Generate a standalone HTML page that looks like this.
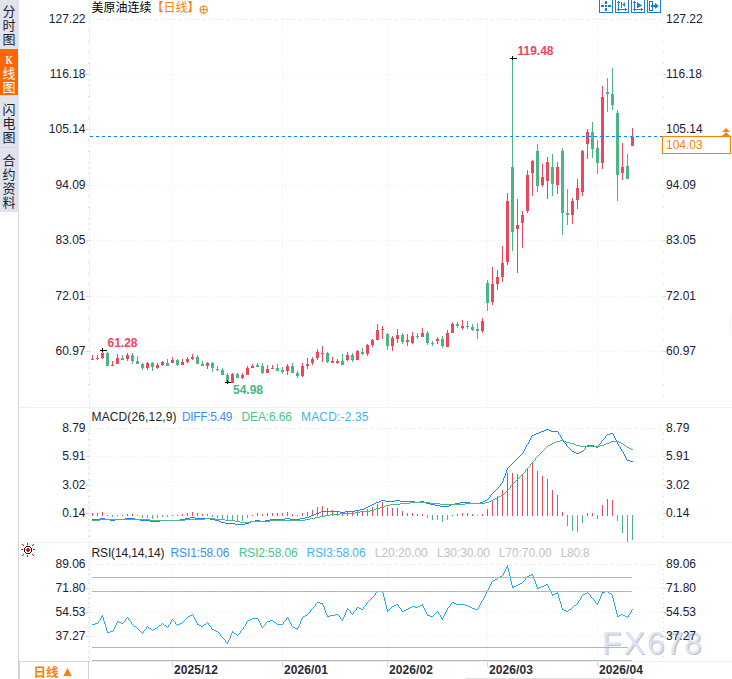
<!DOCTYPE html>
<html><head><meta charset="utf-8"><title>chart</title>
<style>html,body{margin:0;padding:0;background:#fff;overflow:hidden;}svg{display:block}text{shape-rendering:auto}</style>
</head><body><svg width="732" height="679" viewBox="0 0 732 679" font-family="'Liberation Sans', sans-serif" shape-rendering="crispEdges">
<rect x="0" y="0" width="732" height="679" fill="#ffffff"/>
<g shape-rendering="auto" font-size="31.7"><text x="603 624.8 648.1 666.7 685.1" y="654.9" fill="#b9a58e" opacity="0.7">FX678</text><text x="601.9 623.7 647 665.6 684" y="653.9" fill="#d6e5f7">FX678</text></g>
<rect x="18" y="0" width="1" height="679" fill="#d0d8e2"/>
<rect x="89" y="0" width="1" height="661" fill="#edf1f5"/>
<rect x="19" y="407" width="713" height="1" fill="#edf1f5"/>
<rect x="19" y="542" width="713" height="1" fill="#edf1f5"/>
<rect x="19" y="661" width="713" height="1" fill="#edf1f5"/>
<line x1="90" y1="19.5" x2="662" y2="19.5" stroke="#eaeff4" stroke-dasharray="3 3" stroke-dashoffset="1"/>
<line x1="90" y1="74.5" x2="662" y2="74.5" stroke="#eaeff4" stroke-dasharray="1 2" stroke-dashoffset="0"/>
<line x1="90" y1="129.5" x2="662" y2="129.5" stroke="#eaeff4" stroke-dasharray="1 2" stroke-dashoffset="0"/>
<line x1="90" y1="185.5" x2="662" y2="185.5" stroke="#eaeff4" stroke-dasharray="1 2" stroke-dashoffset="0"/>
<line x1="90" y1="240.5" x2="662" y2="240.5" stroke="#eaeff4" stroke-dasharray="1 2" stroke-dashoffset="0"/>
<line x1="90" y1="296.5" x2="662" y2="296.5" stroke="#eaeff4" stroke-dasharray="1 2" stroke-dashoffset="0"/>
<line x1="90" y1="351.5" x2="662" y2="351.5" stroke="#eaeff4" stroke-dasharray="1 2" stroke-dashoffset="0"/>
<line x1="172.5" y1="19" x2="172.5" y2="407" stroke="#eaeff4" stroke-dasharray="1 2" stroke-dashoffset="0"/>
<line x1="172.5" y1="428" x2="172.5" y2="542" stroke="#eaeff4" stroke-dasharray="1 2" stroke-dashoffset="0"/>
<line x1="172.5" y1="564" x2="172.5" y2="660" stroke="#eaeff4" stroke-dasharray="1 2" stroke-dashoffset="0"/>
<line x1="282.5" y1="19" x2="282.5" y2="407" stroke="#eaeff4" stroke-dasharray="1 2" stroke-dashoffset="0"/>
<line x1="282.5" y1="428" x2="282.5" y2="542" stroke="#eaeff4" stroke-dasharray="1 2" stroke-dashoffset="0"/>
<line x1="282.5" y1="564" x2="282.5" y2="660" stroke="#eaeff4" stroke-dasharray="1 2" stroke-dashoffset="0"/>
<line x1="387.5" y1="19" x2="387.5" y2="407" stroke="#eaeff4" stroke-dasharray="1 2" stroke-dashoffset="0"/>
<line x1="387.5" y1="428" x2="387.5" y2="542" stroke="#eaeff4" stroke-dasharray="1 2" stroke-dashoffset="0"/>
<line x1="387.5" y1="564" x2="387.5" y2="660" stroke="#eaeff4" stroke-dasharray="1 2" stroke-dashoffset="0"/>
<line x1="487.5" y1="19" x2="487.5" y2="407" stroke="#eaeff4" stroke-dasharray="1 2" stroke-dashoffset="0"/>
<line x1="487.5" y1="428" x2="487.5" y2="542" stroke="#eaeff4" stroke-dasharray="1 2" stroke-dashoffset="0"/>
<line x1="487.5" y1="564" x2="487.5" y2="660" stroke="#eaeff4" stroke-dasharray="1 2" stroke-dashoffset="0"/>
<line x1="597.5" y1="19" x2="597.5" y2="407" stroke="#eaeff4" stroke-dasharray="1 2" stroke-dashoffset="0"/>
<line x1="597.5" y1="428" x2="597.5" y2="542" stroke="#eaeff4" stroke-dasharray="1 2" stroke-dashoffset="0"/>
<line x1="597.5" y1="564" x2="597.5" y2="660" stroke="#eaeff4" stroke-dasharray="1 2" stroke-dashoffset="0"/>
<line x1="90" y1="428.5" x2="662" y2="428.5" stroke="#eaeff4" stroke-dasharray="3 3" stroke-dashoffset="1"/>
<line x1="90" y1="456.5" x2="662" y2="456.5" stroke="#eaeff4" stroke-dasharray="1 2" stroke-dashoffset="0"/>
<line x1="90" y1="485.5" x2="662" y2="485.5" stroke="#eaeff4" stroke-dasharray="1 2" stroke-dashoffset="0"/>
<line x1="90" y1="513.5" x2="662" y2="513.5" stroke="#eaeff4" stroke-dasharray="1 2" stroke-dashoffset="0"/>
<line x1="90" y1="564.5" x2="662" y2="564.5" stroke="#eaeff4" stroke-dasharray="3 3" stroke-dashoffset="1"/>
<line x1="90" y1="588.5" x2="662" y2="588.5" stroke="#eaeff4" stroke-dasharray="1 2" stroke-dashoffset="0"/>
<line x1="90" y1="612.5" x2="662" y2="612.5" stroke="#eaeff4" stroke-dasharray="1 2" stroke-dashoffset="0"/>
<line x1="90" y1="636.5" x2="662" y2="636.5" stroke="#eaeff4" stroke-dasharray="1 2" stroke-dashoffset="0"/>
<rect x="86" y="74" width="3" height="1" fill="#ced6e2"/>
<rect x="663" y="74" width="3" height="1" fill="#ced6e2"/>
<rect x="86" y="129" width="3" height="1" fill="#ced6e2"/>
<rect x="663" y="129" width="3" height="1" fill="#ced6e2"/>
<rect x="86" y="185" width="3" height="1" fill="#ced6e2"/>
<rect x="663" y="185" width="3" height="1" fill="#ced6e2"/>
<rect x="86" y="240" width="3" height="1" fill="#ced6e2"/>
<rect x="663" y="240" width="3" height="1" fill="#ced6e2"/>
<rect x="86" y="296" width="3" height="1" fill="#ced6e2"/>
<rect x="663" y="296" width="3" height="1" fill="#ced6e2"/>
<rect x="86" y="351" width="3" height="1" fill="#ced6e2"/>
<rect x="663" y="351" width="3" height="1" fill="#ced6e2"/>
<rect x="88" y="30" width="1" height="1" fill="#ced6e2"/>
<rect x="663" y="30" width="1" height="1" fill="#ced6e2"/>
<rect x="88" y="41" width="1" height="1" fill="#ced6e2"/>
<rect x="663" y="41" width="1" height="1" fill="#ced6e2"/>
<rect x="88" y="52" width="1" height="1" fill="#ced6e2"/>
<rect x="663" y="52" width="1" height="1" fill="#ced6e2"/>
<rect x="88" y="63" width="1" height="1" fill="#ced6e2"/>
<rect x="663" y="63" width="1" height="1" fill="#ced6e2"/>
<rect x="88" y="85" width="1" height="1" fill="#ced6e2"/>
<rect x="663" y="85" width="1" height="1" fill="#ced6e2"/>
<rect x="88" y="96" width="1" height="1" fill="#ced6e2"/>
<rect x="663" y="96" width="1" height="1" fill="#ced6e2"/>
<rect x="88" y="107" width="1" height="1" fill="#ced6e2"/>
<rect x="663" y="107" width="1" height="1" fill="#ced6e2"/>
<rect x="88" y="118" width="1" height="1" fill="#ced6e2"/>
<rect x="663" y="118" width="1" height="1" fill="#ced6e2"/>
<rect x="88" y="140" width="1" height="1" fill="#ced6e2"/>
<rect x="663" y="140" width="1" height="1" fill="#ced6e2"/>
<rect x="88" y="151" width="1" height="1" fill="#ced6e2"/>
<rect x="663" y="151" width="1" height="1" fill="#ced6e2"/>
<rect x="88" y="162" width="1" height="1" fill="#ced6e2"/>
<rect x="663" y="162" width="1" height="1" fill="#ced6e2"/>
<rect x="88" y="173" width="1" height="1" fill="#ced6e2"/>
<rect x="663" y="173" width="1" height="1" fill="#ced6e2"/>
<rect x="88" y="196" width="1" height="1" fill="#ced6e2"/>
<rect x="663" y="196" width="1" height="1" fill="#ced6e2"/>
<rect x="88" y="207" width="1" height="1" fill="#ced6e2"/>
<rect x="663" y="207" width="1" height="1" fill="#ced6e2"/>
<rect x="88" y="218" width="1" height="1" fill="#ced6e2"/>
<rect x="663" y="218" width="1" height="1" fill="#ced6e2"/>
<rect x="88" y="229" width="1" height="1" fill="#ced6e2"/>
<rect x="663" y="229" width="1" height="1" fill="#ced6e2"/>
<rect x="88" y="251" width="1" height="1" fill="#ced6e2"/>
<rect x="663" y="251" width="1" height="1" fill="#ced6e2"/>
<rect x="88" y="262" width="1" height="1" fill="#ced6e2"/>
<rect x="663" y="262" width="1" height="1" fill="#ced6e2"/>
<rect x="88" y="273" width="1" height="1" fill="#ced6e2"/>
<rect x="663" y="273" width="1" height="1" fill="#ced6e2"/>
<rect x="88" y="284" width="1" height="1" fill="#ced6e2"/>
<rect x="663" y="284" width="1" height="1" fill="#ced6e2"/>
<rect x="88" y="307" width="1" height="1" fill="#ced6e2"/>
<rect x="663" y="307" width="1" height="1" fill="#ced6e2"/>
<rect x="88" y="318" width="1" height="1" fill="#ced6e2"/>
<rect x="663" y="318" width="1" height="1" fill="#ced6e2"/>
<rect x="88" y="329" width="1" height="1" fill="#ced6e2"/>
<rect x="663" y="329" width="1" height="1" fill="#ced6e2"/>
<rect x="88" y="340" width="1" height="1" fill="#ced6e2"/>
<rect x="663" y="340" width="1" height="1" fill="#ced6e2"/>
<rect x="88" y="362" width="1" height="1" fill="#ced6e2"/>
<rect x="663" y="362" width="1" height="1" fill="#ced6e2"/>
<rect x="88" y="373" width="1" height="1" fill="#ced6e2"/>
<rect x="663" y="373" width="1" height="1" fill="#ced6e2"/>
<rect x="88" y="384" width="1" height="1" fill="#ced6e2"/>
<rect x="663" y="384" width="1" height="1" fill="#ced6e2"/>
<rect x="88" y="395" width="1" height="1" fill="#ced6e2"/>
<rect x="663" y="395" width="1" height="1" fill="#ced6e2"/>
<rect x="86" y="456" width="3" height="1" fill="#ced6e2"/>
<rect x="663" y="456" width="3" height="1" fill="#ced6e2"/>
<rect x="86" y="485" width="3" height="1" fill="#ced6e2"/>
<rect x="663" y="485" width="3" height="1" fill="#ced6e2"/>
<rect x="86" y="513" width="3" height="1" fill="#ced6e2"/>
<rect x="663" y="513" width="3" height="1" fill="#ced6e2"/>
<rect x="88" y="433" width="1" height="1" fill="#ced6e2"/>
<rect x="663" y="433" width="1" height="1" fill="#ced6e2"/>
<rect x="88" y="439" width="1" height="1" fill="#ced6e2"/>
<rect x="663" y="439" width="1" height="1" fill="#ced6e2"/>
<rect x="88" y="445" width="1" height="1" fill="#ced6e2"/>
<rect x="663" y="445" width="1" height="1" fill="#ced6e2"/>
<rect x="88" y="450" width="1" height="1" fill="#ced6e2"/>
<rect x="663" y="450" width="1" height="1" fill="#ced6e2"/>
<rect x="88" y="462" width="1" height="1" fill="#ced6e2"/>
<rect x="663" y="462" width="1" height="1" fill="#ced6e2"/>
<rect x="88" y="467" width="1" height="1" fill="#ced6e2"/>
<rect x="663" y="467" width="1" height="1" fill="#ced6e2"/>
<rect x="88" y="473" width="1" height="1" fill="#ced6e2"/>
<rect x="663" y="473" width="1" height="1" fill="#ced6e2"/>
<rect x="88" y="479" width="1" height="1" fill="#ced6e2"/>
<rect x="663" y="479" width="1" height="1" fill="#ced6e2"/>
<rect x="88" y="490" width="1" height="1" fill="#ced6e2"/>
<rect x="663" y="490" width="1" height="1" fill="#ced6e2"/>
<rect x="88" y="496" width="1" height="1" fill="#ced6e2"/>
<rect x="663" y="496" width="1" height="1" fill="#ced6e2"/>
<rect x="88" y="502" width="1" height="1" fill="#ced6e2"/>
<rect x="663" y="502" width="1" height="1" fill="#ced6e2"/>
<rect x="88" y="507" width="1" height="1" fill="#ced6e2"/>
<rect x="663" y="507" width="1" height="1" fill="#ced6e2"/>
<rect x="88" y="519" width="1" height="1" fill="#ced6e2"/>
<rect x="663" y="519" width="1" height="1" fill="#ced6e2"/>
<rect x="88" y="524" width="1" height="1" fill="#ced6e2"/>
<rect x="663" y="524" width="1" height="1" fill="#ced6e2"/>
<rect x="88" y="530" width="1" height="1" fill="#ced6e2"/>
<rect x="663" y="530" width="1" height="1" fill="#ced6e2"/>
<rect x="88" y="536" width="1" height="1" fill="#ced6e2"/>
<rect x="663" y="536" width="1" height="1" fill="#ced6e2"/>
<rect x="86" y="588" width="3" height="1" fill="#ced6e2"/>
<rect x="663" y="588" width="3" height="1" fill="#ced6e2"/>
<rect x="86" y="612" width="3" height="1" fill="#ced6e2"/>
<rect x="663" y="612" width="3" height="1" fill="#ced6e2"/>
<rect x="86" y="636" width="3" height="1" fill="#ced6e2"/>
<rect x="663" y="636" width="3" height="1" fill="#ced6e2"/>
<rect x="88" y="569" width="1" height="1" fill="#ced6e2"/>
<rect x="663" y="569" width="1" height="1" fill="#ced6e2"/>
<rect x="88" y="574" width="1" height="1" fill="#ced6e2"/>
<rect x="663" y="574" width="1" height="1" fill="#ced6e2"/>
<rect x="88" y="579" width="1" height="1" fill="#ced6e2"/>
<rect x="663" y="579" width="1" height="1" fill="#ced6e2"/>
<rect x="88" y="583" width="1" height="1" fill="#ced6e2"/>
<rect x="663" y="583" width="1" height="1" fill="#ced6e2"/>
<rect x="88" y="593" width="1" height="1" fill="#ced6e2"/>
<rect x="663" y="593" width="1" height="1" fill="#ced6e2"/>
<rect x="88" y="598" width="1" height="1" fill="#ced6e2"/>
<rect x="663" y="598" width="1" height="1" fill="#ced6e2"/>
<rect x="88" y="603" width="1" height="1" fill="#ced6e2"/>
<rect x="663" y="603" width="1" height="1" fill="#ced6e2"/>
<rect x="88" y="607" width="1" height="1" fill="#ced6e2"/>
<rect x="663" y="607" width="1" height="1" fill="#ced6e2"/>
<rect x="88" y="617" width="1" height="1" fill="#ced6e2"/>
<rect x="663" y="617" width="1" height="1" fill="#ced6e2"/>
<rect x="88" y="622" width="1" height="1" fill="#ced6e2"/>
<rect x="663" y="622" width="1" height="1" fill="#ced6e2"/>
<rect x="88" y="627" width="1" height="1" fill="#ced6e2"/>
<rect x="663" y="627" width="1" height="1" fill="#ced6e2"/>
<rect x="88" y="631" width="1" height="1" fill="#ced6e2"/>
<rect x="663" y="631" width="1" height="1" fill="#ced6e2"/>
<rect x="88" y="641" width="1" height="1" fill="#ced6e2"/>
<rect x="663" y="641" width="1" height="1" fill="#ced6e2"/>
<rect x="88" y="646" width="1" height="1" fill="#ced6e2"/>
<rect x="663" y="646" width="1" height="1" fill="#ced6e2"/>
<rect x="88" y="651" width="1" height="1" fill="#ced6e2"/>
<rect x="663" y="651" width="1" height="1" fill="#ced6e2"/>
<rect x="88" y="656" width="1" height="1" fill="#ced6e2"/>
<rect x="663" y="656" width="1" height="1" fill="#ced6e2"/>
<text x="85.5" y="23" fill="#1a2036" font-size="12" text-anchor="end" font-weight="normal">127.22</text>
<text x="666" y="23" fill="#1a2036" font-size="12" text-anchor="start" font-weight="normal">127.22</text>
<text x="85.5" y="78" fill="#1a2036" font-size="12" text-anchor="end" font-weight="normal">116.18</text>
<text x="666" y="78" fill="#1a2036" font-size="12" text-anchor="start" font-weight="normal">116.18</text>
<text x="85.5" y="133" fill="#1a2036" font-size="12" text-anchor="end" font-weight="normal">105.14</text>
<text x="666" y="133" fill="#1a2036" font-size="12" text-anchor="start" font-weight="normal">105.14</text>
<text x="85.5" y="189" fill="#1a2036" font-size="12" text-anchor="end" font-weight="normal">94.09</text>
<text x="666" y="189" fill="#1a2036" font-size="12" text-anchor="start" font-weight="normal">94.09</text>
<text x="85.5" y="244" fill="#1a2036" font-size="12" text-anchor="end" font-weight="normal">83.05</text>
<text x="666" y="244" fill="#1a2036" font-size="12" text-anchor="start" font-weight="normal">83.05</text>
<text x="85.5" y="300" fill="#1a2036" font-size="12" text-anchor="end" font-weight="normal">72.01</text>
<text x="666" y="300" fill="#1a2036" font-size="12" text-anchor="start" font-weight="normal">72.01</text>
<text x="85.5" y="355" fill="#1a2036" font-size="12" text-anchor="end" font-weight="normal">60.97</text>
<text x="666" y="355" fill="#1a2036" font-size="12" text-anchor="start" font-weight="normal">60.97</text>
<text x="85.5" y="432" fill="#1a2036" font-size="12" text-anchor="end" font-weight="normal">8.79</text>
<text x="666" y="432" fill="#1a2036" font-size="12" text-anchor="start" font-weight="normal">8.79</text>
<text x="85.5" y="460" fill="#1a2036" font-size="12" text-anchor="end" font-weight="normal">5.91</text>
<text x="666" y="460" fill="#1a2036" font-size="12" text-anchor="start" font-weight="normal">5.91</text>
<text x="85.5" y="489" fill="#1a2036" font-size="12" text-anchor="end" font-weight="normal">3.02</text>
<text x="666" y="489" fill="#1a2036" font-size="12" text-anchor="start" font-weight="normal">3.02</text>
<text x="85.5" y="517" fill="#1a2036" font-size="12" text-anchor="end" font-weight="normal">0.14</text>
<text x="666" y="517" fill="#1a2036" font-size="12" text-anchor="start" font-weight="normal">0.14</text>
<text x="85.5" y="568" fill="#1a2036" font-size="12" text-anchor="end" font-weight="normal">89.06</text>
<text x="666" y="568" fill="#1a2036" font-size="12" text-anchor="start" font-weight="normal">89.06</text>
<text x="85.5" y="592" fill="#1a2036" font-size="12" text-anchor="end" font-weight="normal">71.80</text>
<text x="666" y="592" fill="#1a2036" font-size="12" text-anchor="start" font-weight="normal">71.80</text>
<text x="85.5" y="616" fill="#1a2036" font-size="12" text-anchor="end" font-weight="normal">54.53</text>
<text x="666" y="616" fill="#1a2036" font-size="12" text-anchor="start" font-weight="normal">54.53</text>
<text x="85.5" y="640" fill="#1a2036" font-size="12" text-anchor="end" font-weight="normal">37.27</text>
<text x="666" y="640" fill="#1a2036" font-size="12" text-anchor="start" font-weight="normal">37.27</text>
<rect x="92" y="355" width="1" height="5" fill="#ec485c"/>
<rect x="91" y="359" width="3" height="1" fill="#ec485c"/>
<rect x="97" y="355" width="1" height="5" fill="#ec485c"/>
<rect x="96" y="358" width="3" height="1" fill="#ec485c"/>
<rect x="102" y="350" width="1" height="9" fill="#ec485c"/>
<rect x="101" y="353" width="3" height="5" fill="#ec485c"/>
<rect x="107" y="352" width="1" height="14" fill="#49b684"/>
<rect x="106" y="353" width="3" height="13" fill="#49b684"/>
<rect x="112" y="361" width="1" height="5" fill="#ec485c"/>
<rect x="111" y="365" width="3" height="1" fill="#ec485c"/>
<rect x="117" y="354" width="1" height="10" fill="#ec485c"/>
<rect x="116" y="358" width="3" height="6" fill="#ec485c"/>
<rect x="122" y="355" width="1" height="5" fill="#49b684"/>
<rect x="121" y="358" width="3" height="2" fill="#49b684"/>
<rect x="127" y="353" width="1" height="8" fill="#ec485c"/>
<rect x="126" y="355" width="3" height="4" fill="#ec485c"/>
<rect x="132" y="353" width="1" height="11" fill="#49b684"/>
<rect x="131" y="355" width="3" height="6" fill="#49b684"/>
<rect x="137" y="356" width="1" height="8" fill="#49b684"/>
<rect x="136" y="361" width="3" height="3" fill="#49b684"/>
<rect x="142" y="363" width="1" height="7" fill="#49b684"/>
<rect x="141" y="364" width="3" height="4" fill="#49b684"/>
<rect x="147" y="362" width="1" height="8" fill="#ec485c"/>
<rect x="146" y="363" width="3" height="5" fill="#ec485c"/>
<rect x="152" y="362" width="1" height="9" fill="#49b684"/>
<rect x="151" y="363" width="3" height="4" fill="#49b684"/>
<rect x="157" y="363" width="1" height="6" fill="#ec485c"/>
<rect x="156" y="365" width="3" height="3" fill="#ec485c"/>
<rect x="162" y="361" width="1" height="5" fill="#ec485c"/>
<rect x="161" y="362" width="3" height="3" fill="#ec485c"/>
<rect x="167" y="359" width="1" height="7" fill="#49b684"/>
<rect x="166" y="363" width="3" height="3" fill="#49b684"/>
<rect x="172" y="357" width="1" height="6" fill="#ec485c"/>
<rect x="171" y="360" width="3" height="3" fill="#ec485c"/>
<rect x="177" y="359" width="1" height="7" fill="#49b684"/>
<rect x="176" y="360" width="3" height="5" fill="#49b684"/>
<rect x="182" y="359" width="1" height="6" fill="#ec485c"/>
<rect x="181" y="362" width="3" height="3" fill="#ec485c"/>
<rect x="187" y="357" width="1" height="6" fill="#ec485c"/>
<rect x="186" y="359" width="3" height="3" fill="#ec485c"/>
<rect x="192" y="354" width="1" height="6" fill="#ec485c"/>
<rect x="191" y="357" width="3" height="2" fill="#ec485c"/>
<rect x="197" y="355" width="1" height="9" fill="#49b684"/>
<rect x="196" y="357" width="3" height="7" fill="#49b684"/>
<rect x="202" y="361" width="1" height="5" fill="#49b684"/>
<rect x="201" y="364" width="3" height="2" fill="#49b684"/>
<rect x="207" y="362" width="1" height="7" fill="#ec485c"/>
<rect x="206" y="363" width="3" height="3" fill="#ec485c"/>
<rect x="212" y="362" width="1" height="10" fill="#49b684"/>
<rect x="211" y="363" width="3" height="5" fill="#49b684"/>
<rect x="217" y="366" width="1" height="5" fill="#49b684"/>
<rect x="216" y="369" width="3" height="1" fill="#49b684"/>
<rect x="222" y="368" width="1" height="7" fill="#49b684"/>
<rect x="221" y="370" width="3" height="5" fill="#49b684"/>
<rect x="227" y="373" width="1" height="9" fill="#49b684"/>
<rect x="226" y="375" width="3" height="7" fill="#49b684"/>
<rect x="232" y="373" width="1" height="10" fill="#ec485c"/>
<rect x="231" y="374" width="3" height="9" fill="#ec485c"/>
<rect x="237" y="373" width="1" height="5" fill="#49b684"/>
<rect x="236" y="374" width="3" height="4" fill="#49b684"/>
<rect x="242" y="373" width="1" height="6" fill="#ec485c"/>
<rect x="241" y="375" width="3" height="3" fill="#ec485c"/>
<rect x="247" y="366" width="1" height="9" fill="#ec485c"/>
<rect x="246" y="368" width="3" height="7" fill="#ec485c"/>
<rect x="252" y="364" width="1" height="4" fill="#ec485c"/>
<rect x="251" y="366" width="3" height="2" fill="#ec485c"/>
<rect x="257" y="363" width="1" height="4" fill="#49b684"/>
<rect x="256" y="365" width="3" height="2" fill="#49b684"/>
<rect x="262" y="363" width="1" height="11" fill="#49b684"/>
<rect x="261" y="366" width="3" height="7" fill="#49b684"/>
<rect x="267" y="365" width="1" height="8" fill="#ec485c"/>
<rect x="266" y="369" width="3" height="4" fill="#ec485c"/>
<rect x="272" y="365" width="1" height="4" fill="#ec485c"/>
<rect x="271" y="368" width="3" height="1" fill="#ec485c"/>
<rect x="277" y="364" width="1" height="7" fill="#49b684"/>
<rect x="276" y="368" width="3" height="3" fill="#49b684"/>
<rect x="282" y="367" width="1" height="7" fill="#49b684"/>
<rect x="281" y="370" width="3" height="2" fill="#49b684"/>
<rect x="287" y="364" width="1" height="11" fill="#ec485c"/>
<rect x="286" y="366" width="3" height="5" fill="#ec485c"/>
<rect x="292" y="363" width="1" height="10" fill="#49b684"/>
<rect x="291" y="366" width="3" height="7" fill="#49b684"/>
<rect x="297" y="371" width="1" height="7" fill="#49b684"/>
<rect x="296" y="373" width="3" height="3" fill="#49b684"/>
<rect x="302" y="363" width="1" height="14" fill="#ec485c"/>
<rect x="301" y="366" width="3" height="10" fill="#ec485c"/>
<rect x="307" y="358" width="1" height="11" fill="#ec485c"/>
<rect x="306" y="364" width="3" height="2" fill="#ec485c"/>
<rect x="312" y="357" width="1" height="8" fill="#ec485c"/>
<rect x="311" y="359" width="3" height="4" fill="#ec485c"/>
<rect x="317" y="349" width="1" height="11" fill="#ec485c"/>
<rect x="316" y="352" width="3" height="6" fill="#ec485c"/>
<rect x="322" y="346" width="1" height="16" fill="#ec485c"/>
<rect x="321" y="353" width="3" height="1" fill="#ec485c"/>
<rect x="327" y="352" width="1" height="11" fill="#49b684"/>
<rect x="326" y="353" width="3" height="9" fill="#49b684"/>
<rect x="332" y="357" width="1" height="6" fill="#ec485c"/>
<rect x="331" y="361" width="3" height="2" fill="#ec485c"/>
<rect x="337" y="359" width="1" height="5" fill="#ec485c"/>
<rect x="336" y="361" width="3" height="2" fill="#ec485c"/>
<rect x="342" y="354" width="1" height="11" fill="#49b684"/>
<rect x="341" y="361" width="3" height="4" fill="#49b684"/>
<rect x="347" y="352" width="1" height="9" fill="#ec485c"/>
<rect x="346" y="355" width="3" height="5" fill="#ec485c"/>
<rect x="352" y="353" width="1" height="9" fill="#49b684"/>
<rect x="351" y="355" width="3" height="5" fill="#49b684"/>
<rect x="357" y="350" width="1" height="10" fill="#ec485c"/>
<rect x="356" y="351" width="3" height="9" fill="#ec485c"/>
<rect x="362" y="348" width="1" height="7" fill="#49b684"/>
<rect x="361" y="352" width="3" height="2" fill="#49b684"/>
<rect x="367" y="344" width="1" height="12" fill="#ec485c"/>
<rect x="366" y="345" width="3" height="9" fill="#ec485c"/>
<rect x="372" y="339" width="1" height="8" fill="#ec485c"/>
<rect x="371" y="340" width="3" height="5" fill="#ec485c"/>
<rect x="377" y="324" width="1" height="16" fill="#ec485c"/>
<rect x="376" y="330" width="3" height="10" fill="#ec485c"/>
<rect x="382" y="326" width="1" height="13" fill="#ec485c"/>
<rect x="381" y="329" width="3" height="1" fill="#ec485c"/>
<rect x="387" y="333" width="1" height="17" fill="#49b684"/>
<rect x="386" y="334" width="3" height="12" fill="#49b684"/>
<rect x="392" y="336" width="1" height="15" fill="#ec485c"/>
<rect x="391" y="338" width="3" height="8" fill="#ec485c"/>
<rect x="397" y="329" width="1" height="14" fill="#ec485c"/>
<rect x="396" y="335" width="3" height="4" fill="#ec485c"/>
<rect x="402" y="333" width="1" height="11" fill="#49b684"/>
<rect x="401" y="335" width="3" height="7" fill="#49b684"/>
<rect x="407" y="334" width="1" height="12" fill="#ec485c"/>
<rect x="406" y="340" width="3" height="2" fill="#ec485c"/>
<rect x="412" y="332" width="1" height="12" fill="#ec485c"/>
<rect x="411" y="336" width="3" height="7" fill="#ec485c"/>
<rect x="417" y="333" width="1" height="6" fill="#49b684"/>
<rect x="416" y="336" width="3" height="1" fill="#49b684"/>
<rect x="422" y="328" width="1" height="9" fill="#ec485c"/>
<rect x="421" y="333" width="3" height="4" fill="#ec485c"/>
<rect x="427" y="331" width="1" height="14" fill="#49b684"/>
<rect x="426" y="333" width="3" height="10" fill="#49b684"/>
<rect x="432" y="341" width="1" height="5" fill="#49b684"/>
<rect x="431" y="343" width="3" height="1" fill="#49b684"/>
<rect x="437" y="337" width="1" height="7" fill="#ec485c"/>
<rect x="436" y="339" width="3" height="2" fill="#ec485c"/>
<rect x="442" y="336" width="1" height="12" fill="#49b684"/>
<rect x="441" y="339" width="3" height="7" fill="#49b684"/>
<rect x="447" y="330" width="1" height="17" fill="#ec485c"/>
<rect x="446" y="333" width="3" height="14" fill="#ec485c"/>
<rect x="452" y="322" width="1" height="11" fill="#ec485c"/>
<rect x="451" y="324" width="3" height="9" fill="#ec485c"/>
<rect x="457" y="322" width="1" height="6" fill="#49b684"/>
<rect x="456" y="324" width="3" height="2" fill="#49b684"/>
<rect x="462" y="320" width="1" height="10" fill="#ec485c"/>
<rect x="461" y="326" width="3" height="2" fill="#ec485c"/>
<rect x="467" y="321" width="1" height="8" fill="#49b684"/>
<rect x="466" y="326" width="3" height="1" fill="#49b684"/>
<rect x="472" y="324" width="1" height="7" fill="#49b684"/>
<rect x="471" y="327" width="3" height="3" fill="#49b684"/>
<rect x="477" y="323" width="1" height="16" fill="#49b684"/>
<rect x="476" y="329" width="3" height="2" fill="#49b684"/>
<rect x="482" y="318" width="1" height="15" fill="#ec485c"/>
<rect x="481" y="321" width="3" height="10" fill="#ec485c"/>
<rect x="487" y="280" width="1" height="31" fill="#49b684"/>
<rect x="486" y="283" width="3" height="20" fill="#49b684"/>
<rect x="492" y="267" width="1" height="38" fill="#ec485c"/>
<rect x="491" y="284" width="3" height="18" fill="#ec485c"/>
<rect x="497" y="270" width="1" height="20" fill="#ec485c"/>
<rect x="496" y="277" width="3" height="7" fill="#ec485c"/>
<rect x="502" y="246" width="1" height="36" fill="#ec485c"/>
<rect x="501" y="263" width="3" height="14" fill="#ec485c"/>
<rect x="507" y="193" width="1" height="72" fill="#ec485c"/>
<rect x="506" y="201" width="3" height="61" fill="#ec485c"/>
<rect x="512" y="58" width="1" height="193" fill="#49b684"/>
<rect x="511" y="167" width="3" height="65" fill="#49b684"/>
<rect x="517" y="199" width="1" height="74" fill="#ec485c"/>
<rect x="516" y="225" width="3" height="4" fill="#ec485c"/>
<rect x="522" y="211" width="1" height="37" fill="#ec485c"/>
<rect x="521" y="215" width="3" height="8" fill="#ec485c"/>
<rect x="527" y="170" width="1" height="43" fill="#ec485c"/>
<rect x="526" y="175" width="3" height="36" fill="#ec485c"/>
<rect x="532" y="160" width="1" height="36" fill="#ec485c"/>
<rect x="531" y="161" width="3" height="12" fill="#ec485c"/>
<rect x="537" y="144" width="1" height="48" fill="#49b684"/>
<rect x="536" y="151" width="3" height="35" fill="#49b684"/>
<rect x="542" y="164" width="1" height="23" fill="#ec485c"/>
<rect x="541" y="177" width="3" height="8" fill="#ec485c"/>
<rect x="547" y="157" width="1" height="42" fill="#ec485c"/>
<rect x="546" y="162" width="3" height="19" fill="#ec485c"/>
<rect x="552" y="154" width="1" height="42" fill="#49b684"/>
<rect x="551" y="167" width="3" height="17" fill="#49b684"/>
<rect x="557" y="162" width="1" height="32" fill="#ec485c"/>
<rect x="556" y="167" width="3" height="18" fill="#ec485c"/>
<rect x="562" y="148" width="1" height="87" fill="#49b684"/>
<rect x="561" y="151" width="3" height="62" fill="#49b684"/>
<rect x="567" y="189" width="1" height="36" fill="#49b684"/>
<rect x="566" y="213" width="3" height="2" fill="#49b684"/>
<rect x="572" y="198" width="1" height="26" fill="#ec485c"/>
<rect x="571" y="201" width="3" height="14" fill="#ec485c"/>
<rect x="577" y="179" width="1" height="30" fill="#ec485c"/>
<rect x="576" y="188" width="3" height="12" fill="#ec485c"/>
<rect x="582" y="150" width="1" height="46" fill="#ec485c"/>
<rect x="581" y="151" width="3" height="41" fill="#ec485c"/>
<rect x="587" y="129" width="1" height="30" fill="#ec485c"/>
<rect x="586" y="132" width="3" height="12" fill="#ec485c"/>
<rect x="592" y="122" width="1" height="36" fill="#49b684"/>
<rect x="591" y="132" width="3" height="17" fill="#49b684"/>
<rect x="597" y="140" width="1" height="34" fill="#49b684"/>
<rect x="596" y="148" width="3" height="15" fill="#49b684"/>
<rect x="602" y="86" width="1" height="83" fill="#ec485c"/>
<rect x="601" y="97" width="3" height="66" fill="#ec485c"/>
<rect x="607" y="78" width="1" height="34" fill="#49b684"/>
<rect x="606" y="92" width="3" height="2" fill="#49b684"/>
<rect x="612" y="68" width="1" height="42" fill="#49b684"/>
<rect x="611" y="94" width="3" height="11" fill="#49b684"/>
<rect x="617" y="110" width="1" height="91" fill="#49b684"/>
<rect x="616" y="113" width="3" height="62" fill="#49b684"/>
<rect x="622" y="143" width="1" height="37" fill="#ec485c"/>
<rect x="621" y="167" width="3" height="6" fill="#ec485c"/>
<rect x="627" y="154" width="1" height="25" fill="#49b684"/>
<rect x="626" y="166" width="3" height="13" fill="#49b684"/>
<rect x="632" y="128" width="1" height="18" fill="#ec485c"/>
<rect x="631" y="137" width="3" height="9" fill="#ec485c"/>
<line x1="90" y1="136.5" x2="662" y2="136.5" stroke="#0c7eff" stroke-dasharray="3 3"/>
<rect x="100" y="350" width="7" height="1" fill="#000"/>
<rect x="102" y="348" width="1" height="4" fill="#000"/>
<rect x="225" y="382" width="6" height="1" fill="#000"/>
<rect x="227" y="380" width="1" height="4" fill="#000"/>
<rect x="510" y="58" width="7" height="1" fill="#000"/>
<rect x="512" y="56" width="1" height="4" fill="#000"/>
<text x="107.5" y="347" fill="#ec485c" font-size="12" text-anchor="start" font-weight="bold">61.28</text>
<text x="233" y="394" fill="#49b684" font-size="12" text-anchor="start" font-weight="bold">54.98</text>
<text x="517.5" y="55" fill="#ec485c" font-size="12" text-anchor="start" font-weight="bold">119.48</text>
<rect x="92" y="513" width="1" height="3" fill="#ec485c"/>
<rect x="97" y="513" width="1" height="3" fill="#ec485c"/>
<rect x="102" y="512" width="1" height="4" fill="#ec485c"/>
<rect x="107" y="515" width="1" height="1" fill="#ec485c"/>
<rect x="112" y="515" width="1" height="2" fill="#49b684"/>
<rect x="117" y="515" width="1" height="1" fill="#ec485c"/>
<rect x="122" y="515" width="1" height="1" fill="#ec485c"/>
<rect x="127" y="514" width="1" height="2" fill="#ec485c"/>
<rect x="132" y="514" width="1" height="2" fill="#ec485c"/>
<rect x="137" y="515" width="1" height="1" fill="#49b684"/>
<rect x="142" y="515" width="1" height="3" fill="#49b684"/>
<rect x="147" y="515" width="1" height="3" fill="#49b684"/>
<rect x="152" y="515" width="1" height="4" fill="#49b684"/>
<rect x="157" y="515" width="1" height="3" fill="#49b684"/>
<rect x="162" y="515" width="1" height="2" fill="#49b684"/>
<rect x="167" y="515" width="1" height="2" fill="#49b684"/>
<rect x="172" y="515" width="1" height="1" fill="#ec485c"/>
<rect x="177" y="515" width="1" height="1" fill="#ec485c"/>
<rect x="182" y="514" width="1" height="2" fill="#ec485c"/>
<rect x="187" y="513" width="1" height="3" fill="#ec485c"/>
<rect x="192" y="512" width="1" height="4" fill="#ec485c"/>
<rect x="197" y="513" width="1" height="3" fill="#ec485c"/>
<rect x="202" y="514" width="1" height="2" fill="#ec485c"/>
<rect x="207" y="514" width="1" height="2" fill="#ec485c"/>
<rect x="212" y="515" width="1" height="2" fill="#49b684"/>
<rect x="217" y="515" width="1" height="3" fill="#49b684"/>
<rect x="222" y="515" width="1" height="5" fill="#49b684"/>
<rect x="227" y="515" width="1" height="6" fill="#49b684"/>
<rect x="232" y="515" width="1" height="6" fill="#49b684"/>
<rect x="237" y="515" width="1" height="6" fill="#49b684"/>
<rect x="242" y="515" width="1" height="6" fill="#49b684"/>
<rect x="247" y="515" width="1" height="3" fill="#49b684"/>
<rect x="252" y="515" width="1" height="1" fill="#ec485c"/>
<rect x="257" y="513" width="1" height="3" fill="#ec485c"/>
<rect x="262" y="514" width="1" height="2" fill="#ec485c"/>
<rect x="267" y="513" width="1" height="3" fill="#ec485c"/>
<rect x="272" y="513" width="1" height="3" fill="#ec485c"/>
<rect x="277" y="513" width="1" height="3" fill="#ec485c"/>
<rect x="282" y="513" width="1" height="3" fill="#ec485c"/>
<rect x="287" y="512" width="1" height="4" fill="#ec485c"/>
<rect x="292" y="514" width="1" height="2" fill="#ec485c"/>
<rect x="297" y="515" width="1" height="1" fill="#ec485c"/>
<rect x="302" y="513" width="1" height="3" fill="#ec485c"/>
<rect x="307" y="512" width="1" height="4" fill="#ec485c"/>
<rect x="312" y="510" width="1" height="6" fill="#ec485c"/>
<rect x="317" y="507" width="1" height="9" fill="#ec485c"/>
<rect x="322" y="506" width="1" height="10" fill="#ec485c"/>
<rect x="327" y="508" width="1" height="8" fill="#ec485c"/>
<rect x="332" y="510" width="1" height="6" fill="#ec485c"/>
<rect x="337" y="511" width="1" height="5" fill="#ec485c"/>
<rect x="342" y="513" width="1" height="3" fill="#ec485c"/>
<rect x="347" y="512" width="1" height="4" fill="#ec485c"/>
<rect x="352" y="512" width="1" height="4" fill="#ec485c"/>
<rect x="357" y="511" width="1" height="5" fill="#ec485c"/>
<rect x="362" y="511" width="1" height="5" fill="#ec485c"/>
<rect x="367" y="509" width="1" height="7" fill="#ec485c"/>
<rect x="372" y="507" width="1" height="9" fill="#ec485c"/>
<rect x="377" y="504" width="1" height="12" fill="#ec485c"/>
<rect x="382" y="502" width="1" height="14" fill="#ec485c"/>
<rect x="387" y="507" width="1" height="9" fill="#ec485c"/>
<rect x="392" y="508" width="1" height="8" fill="#ec485c"/>
<rect x="397" y="508" width="1" height="8" fill="#ec485c"/>
<rect x="402" y="511" width="1" height="5" fill="#ec485c"/>
<rect x="407" y="513" width="1" height="3" fill="#ec485c"/>
<rect x="412" y="513" width="1" height="3" fill="#ec485c"/>
<rect x="417" y="514" width="1" height="2" fill="#ec485c"/>
<rect x="422" y="514" width="1" height="2" fill="#ec485c"/>
<rect x="427" y="515" width="1" height="3" fill="#49b684"/>
<rect x="432" y="515" width="1" height="5" fill="#49b684"/>
<rect x="437" y="515" width="1" height="5" fill="#49b684"/>
<rect x="442" y="515" width="1" height="7" fill="#49b684"/>
<rect x="447" y="515" width="1" height="5" fill="#49b684"/>
<rect x="452" y="515" width="1" height="1" fill="#ec485c"/>
<rect x="457" y="514" width="1" height="2" fill="#ec485c"/>
<rect x="462" y="513" width="1" height="3" fill="#ec485c"/>
<rect x="467" y="513" width="1" height="3" fill="#ec485c"/>
<rect x="472" y="514" width="1" height="2" fill="#ec485c"/>
<rect x="477" y="515" width="1" height="1" fill="#49b684"/>
<rect x="482" y="514" width="1" height="2" fill="#ec485c"/>
<rect x="487" y="509" width="1" height="7" fill="#ec485c"/>
<rect x="492" y="501" width="1" height="15" fill="#ec485c"/>
<rect x="497" y="496" width="1" height="20" fill="#ec485c"/>
<rect x="502" y="490" width="1" height="26" fill="#ec485c"/>
<rect x="507" y="473" width="1" height="43" fill="#ec485c"/>
<rect x="512" y="473" width="1" height="43" fill="#ec485c"/>
<rect x="517" y="474" width="1" height="42" fill="#ec485c"/>
<rect x="522" y="474" width="1" height="42" fill="#ec485c"/>
<rect x="527" y="468" width="1" height="48" fill="#ec485c"/>
<rect x="532" y="463" width="1" height="53" fill="#ec485c"/>
<rect x="537" y="471" width="1" height="45" fill="#ec485c"/>
<rect x="542" y="476" width="1" height="40" fill="#ec485c"/>
<rect x="547" y="479" width="1" height="37" fill="#ec485c"/>
<rect x="552" y="490" width="1" height="26" fill="#ec485c"/>
<rect x="557" y="495" width="1" height="21" fill="#ec485c"/>
<rect x="562" y="512" width="1" height="4" fill="#ec485c"/>
<rect x="567" y="515" width="1" height="11" fill="#49b684"/>
<rect x="572" y="515" width="1" height="16" fill="#49b684"/>
<rect x="577" y="515" width="1" height="17" fill="#49b684"/>
<rect x="582" y="515" width="1" height="8" fill="#49b684"/>
<rect x="587" y="513" width="1" height="3" fill="#ec485c"/>
<rect x="592" y="513" width="1" height="3" fill="#ec485c"/>
<rect x="597" y="515" width="1" height="4" fill="#49b684"/>
<rect x="602" y="505" width="1" height="11" fill="#ec485c"/>
<rect x="607" y="499" width="1" height="17" fill="#ec485c"/>
<rect x="612" y="500" width="1" height="16" fill="#ec485c"/>
<rect x="617" y="515" width="1" height="6" fill="#49b684"/>
<rect x="622" y="515" width="1" height="18" fill="#49b684"/>
<rect x="627" y="515" width="1" height="27" fill="#49b684"/>
<rect x="632" y="515" width="1" height="25" fill="#49b684"/>
<path d="M546 429h3v1h-3zM544 430h2v1h-2zM549 430h2v1h-2zM541 431h3v1h-3zM551 431h7v1h-7zM539 432h2v1h-2zM558 432h1v2h-1zM536 433h3v1h-3zM610 433h3v1h-3zM534 434h2v1h-2zM559 434h1v1h-1zM607 434h3v1h-3zM613 434h1v2h-1zM532 435h2v1h-2zM606 435h1v1h-1zM560 435h1v2h-1zM531 436h1v2h-1zM605 436h1v2h-1zM614 436h1v2h-1zM561 437h1v2h-1zM604 438h1v1h-1zM530 438h1v2h-1zM615 438h1v2h-1zM562 439h1v1h-1zM603 439h1v1h-1zM602 440h1v1h-1zM529 440h1v2h-1zM563 440h1v2h-1zM616 440h1v2h-1zM601 441h1v2h-1zM564 442h1v1h-1zM528 442h1v2h-1zM617 442h1v2h-1zM565 443h1v1h-1zM600 443h1v1h-1zM527 444h1v1h-1zM599 444h1v1h-1zM566 444h1v2h-1zM618 444h1v2h-1zM587 445h7v1h-7zM526 445h1v2h-1zM598 445h1v2h-1zM567 446h1v1h-1zM586 446h1v1h-1zM594 446h2v1h-2zM619 446h1v1h-1zM568 447h1v1h-1zM596 447h2v1h-2zM525 447h1v2h-1zM585 447h1v2h-1zM620 447h1v2h-1zM569 448h1v1h-1zM570 449h1v1h-1zM584 449h1v1h-1zM524 449h1v2h-1zM621 449h1v2h-1zM571 450h1v1h-1zM583 450h1v1h-1zM572 451h2v1h-2zM581 451h2v1h-2zM622 451h1v1h-1zM523 451h1v2h-1zM574 452h2v1h-2zM579 452h2v1h-2zM623 452h1v2h-1zM522 453h1v1h-1zM576 453h3v1h-3zM521 454h1v1h-1zM624 454h1v2h-1zM520 455h1v1h-1zM519 456h1v1h-1zM625 456h1v2h-1zM518 457h1v1h-1zM517 458h1v1h-1zM626 458h1v2h-1zM516 459h1v1h-1zM515 460h1v1h-1zM627 460h3v1h-3zM514 461h1v1h-1zM630 461h3v1h-3zM513 462h1v1h-1zM512 463h1v1h-1zM511 464h1v1h-1zM510 465h1v1h-1zM509 466h1v1h-1zM508 467h1v1h-1zM507 468h1v2h-1zM506 470h1v3h-1zM505 473h1v3h-1zM504 476h1v2h-1zM503 478h1v3h-1zM502 481h1v2h-1zM501 483h1v1h-1zM500 484h1v2h-1zM499 486h1v1h-1zM498 487h1v1h-1zM497 488h1v1h-1zM496 489h1v1h-1zM495 490h1v1h-1zM494 491h1v1h-1zM493 492h1v1h-1zM492 493h1v1h-1zM491 494h1v1h-1zM490 495h1v2h-1zM489 497h1v1h-1zM488 498h1v1h-1zM487 499h1v1h-1zM381 500h4v1h-4zM395 500h5v1h-5zM485 500h2v1h-2zM379 501h2v1h-2zM385 501h10v1h-10zM400 501h15v1h-15zM420 501h4v1h-4zM483 501h2v1h-2zM376 502h3v1h-3zM415 502h5v1h-5zM424 502h2v1h-2zM460 502h10v1h-10zM480 502h3v1h-3zM374 503h2v1h-2zM426 503h4v1h-4zM455 503h5v1h-5zM470 503h10v1h-10zM372 504h2v1h-2zM430 504h5v1h-5zM451 504h4v1h-4zM370 505h2v1h-2zM435 505h5v1h-5zM449 505h2v1h-2zM368 506h2v1h-2zM440 506h9v1h-9zM366 507h2v1h-2zM364 508h2v1h-2zM360 509h4v1h-4zM355 510h5v1h-5zM321 511h19v1h-19zM345 511h10v1h-10zM319 512h2v1h-2zM340 512h5v1h-5zM316 513h3v1h-3zM314 514h2v1h-2zM311 515h3v1h-3zM309 516h2v1h-2zM190 517h5v1h-5zM305 517h4v1h-4zM100 518h5v1h-5zM125 518h10v1h-10zM185 518h5v1h-5zM195 518h15v1h-15zM285 518h5v1h-5zM300 518h5v1h-5zM92 519h8v1h-8zM105 519h5v1h-5zM115 519h10v1h-10zM135 519h5v1h-5zM180 519h5v1h-5zM210 519h5v1h-5zM270 519h15v1h-15zM290 519h10v1h-10zM110 520h5v1h-5zM140 520h10v1h-10zM160 520h20v1h-20zM215 520h4v1h-4zM255 520h5v1h-5zM265 520h5v1h-5zM150 521h10v1h-10zM219 521h2v1h-2zM251 521h4v1h-4zM260 521h5v1h-5zM221 522h4v1h-4zM249 522h2v1h-2zM225 523h10v1h-10zM245 523h4v1h-4zM235 524h10v1h-10z" fill="#1e86fb"/>
<path d="M560 440h4v1h-4zM556 441h4v1h-4zM564 441h2v1h-2zM611 441h8v1h-8zM554 442h2v1h-2zM566 442h4v1h-4zM609 442h2v1h-2zM619 442h2v1h-2zM552 443h2v1h-2zM570 443h4v1h-4zM606 443h3v1h-3zM621 443h2v1h-2zM550 444h2v1h-2zM574 444h2v1h-2zM604 444h2v1h-2zM623 444h1v1h-1zM548 445h2v1h-2zM576 445h4v1h-4zM600 445h4v1h-4zM624 445h2v1h-2zM547 446h1v1h-1zM580 446h20v1h-20zM626 446h1v1h-1zM546 447h1v1h-1zM627 447h2v1h-2zM545 448h1v1h-1zM629 448h2v1h-2zM544 449h1v1h-1zM631 449h2v1h-2zM543 450h1v1h-1zM542 451h1v1h-1zM541 452h1v1h-1zM540 453h1v1h-1zM539 454h1v1h-1zM538 455h1v1h-1zM537 456h1v1h-1zM536 457h1v1h-1zM535 458h1v2h-1zM534 460h1v1h-1zM533 461h1v1h-1zM532 462h1v1h-1zM531 463h1v1h-1zM530 464h1v2h-1zM529 466h1v1h-1zM528 467h1v1h-1zM527 468h1v1h-1zM526 469h1v1h-1zM525 470h1v2h-1zM524 472h1v1h-1zM523 473h1v1h-1zM522 474h1v1h-1zM521 475h1v1h-1zM520 476h1v1h-1zM519 477h1v1h-1zM518 478h1v1h-1zM517 479h1v1h-1zM516 480h1v1h-1zM515 481h1v1h-1zM514 482h1v1h-1zM513 483h1v1h-1zM512 484h1v1h-1zM511 485h1v1h-1zM510 486h1v2h-1zM509 488h1v1h-1zM508 489h1v1h-1zM507 490h1v1h-1zM506 491h1v1h-1zM505 492h1v1h-1zM504 493h1v1h-1zM503 494h1v1h-1zM501 495h2v1h-2zM499 496h2v1h-2zM497 497h2v1h-2zM495 498h2v1h-2zM493 499h2v1h-2zM491 500h2v1h-2zM489 501h2v1h-2zM410 502h20v1h-20zM485 502h4v1h-4zM400 503h10v1h-10zM430 503h10v1h-10zM465 503h20v1h-20zM390 504h10v1h-10zM440 504h25v1h-25zM386 505h4v1h-4zM384 506h2v1h-2zM380 507h4v1h-4zM376 508h4v1h-4zM374 509h2v1h-2zM370 510h4v1h-4zM360 511h10v1h-10zM355 512h5v1h-5zM340 513h15v1h-15zM330 514h10v1h-10zM325 515h5v1h-5zM320 516h5v1h-5zM315 517h5v1h-5zM205 518h10v1h-10zM310 518h5v1h-5zM100 519h50v1h-50zM185 519h20v1h-20zM215 519h10v1h-10zM305 519h5v1h-5zM92 520h8v1h-8zM150 520h35v1h-35zM225 520h10v1h-10zM270 520h35v1h-35zM235 521h5v1h-5zM250 521h20v1h-20zM240 522h10v1h-10z" fill="#49b684"/>
<path d="M507 565h1v3h-1zM506 567h1v2h-1zM508 568h1v4h-1zM505 569h1v2h-1zM504 571h1v2h-1zM509 572h1v4h-1zM503 573h1v2h-1zM531 574h1v1h-1zM532 574h1v2h-1zM502 575h1v1h-1zM529 575h2v1h-2zM500 576h2v1h-2zM527 576h2v1h-2zM533 576h1v3h-1zM510 576h1v5h-1zM498 577h2v1h-2zM526 577h1v1h-1zM497 578h1v1h-1zM525 578h1v2h-1zM495 579h2v1h-2zM534 579h1v2h-1zM493 580h2v1h-2zM524 580h1v1h-1zM492 581h1v1h-1zM523 581h1v1h-1zM535 581h1v3h-1zM511 581h1v4h-1zM522 582h1v1h-1zM491 582h1v2h-1zM520 583h2v1h-2zM518 584h2v1h-2zM546 584h1v1h-1zM490 584h1v2h-1zM547 584h1v2h-1zM536 584h1v3h-1zM516 585h2v1h-2zM544 585h2v1h-2zM512 585h1v3h-1zM514 586h2v1h-2zM541 586h3v1h-3zM489 586h1v2h-1zM548 586h1v2h-1zM513 587h1v1h-1zM539 587h2v1h-2zM537 587h1v2h-1zM538 588h1v1h-1zM488 588h1v2h-1zM549 588h1v2h-1zM487 590h1v2h-1zM550 590h1v2h-1zM377 591h5v1h-5zM605 591h3v1h-3zM382 591h1v2h-1zM376 592h1v1h-1zM587 592h1v1h-1zM603 592h2v1h-2zM608 592h1v1h-1zM486 592h1v2h-1zM551 592h1v2h-1zM557 592h1v2h-1zM602 592h1v2h-1zM555 593h2v1h-2zM585 593h2v1h-2zM588 593h1v1h-1zM609 593h2v1h-2zM375 593h1v2h-1zM383 593h1v4h-1zM553 594h2v1h-2zM583 594h2v1h-2zM589 594h1v1h-1zM611 594h1v1h-1zM485 594h1v2h-1zM552 594h1v2h-1zM601 594h1v2h-1zM558 594h1v4h-1zM374 595h1v1h-1zM582 595h1v1h-1zM590 595h1v2h-1zM612 595h1v3h-1zM373 596h1v1h-1zM484 596h1v2h-1zM581 596h1v2h-1zM600 596h1v3h-1zM372 597h1v1h-1zM591 597h1v1h-1zM384 597h1v4h-1zM371 598h1v1h-1zM592 598h1v1h-1zM483 598h1v2h-1zM580 598h1v2h-1zM559 598h1v3h-1zM613 598h1v4h-1zM370 599h1v1h-1zM593 599h1v1h-1zM599 599h1v2h-1zM369 600h1v1h-1zM482 600h1v1h-1zM579 600h1v1h-1zM594 600h1v1h-1zM368 601h1v1h-1zM481 601h1v2h-1zM578 601h1v2h-1zM595 601h1v2h-1zM598 601h1v2h-1zM560 601h1v3h-1zM385 601h1v4h-1zM317 602h3v1h-3zM367 602h1v1h-1zM452 602h2v1h-2zM614 602h1v4h-1zM316 603h1v1h-1zM320 603h2v1h-2zM451 603h1v1h-1zM454 603h2v1h-2zM577 603h1v1h-1zM596 603h1v1h-1zM322 603h1v2h-1zM366 603h1v2h-1zM480 603h1v2h-1zM597 603h1v2h-1zM396 604h2v1h-2zM456 604h9v1h-9zM576 604h1v1h-1zM315 604h1v2h-1zM422 604h1v2h-1zM450 604h1v2h-1zM561 604h1v4h-1zM365 605h1v1h-1zM394 605h2v1h-2zM420 605h2v1h-2zM465 605h3v1h-3zM574 605h2v1h-2zM323 605h1v2h-1zM398 605h1v2h-1zM479 605h1v2h-1zM386 605h1v4h-1zM314 606h1v1h-1zM364 606h1v1h-1zM392 606h2v1h-2zM412 606h3v1h-3zM418 606h2v1h-2zM449 606h1v1h-1zM468 606h2v1h-2zM573 606h1v1h-1zM423 606h1v2h-1zM615 606h1v4h-1zM313 607h1v1h-1zM357 607h2v1h-2zM391 607h1v1h-1zM399 607h1v1h-1zM410 607h2v1h-2zM415 607h3v1h-3zM448 607h1v1h-1zM470 607h2v1h-2zM572 607h1v1h-1zM363 607h1v2h-1zM478 607h1v2h-1zM324 607h1v3h-1zM312 608h1v1h-1zM359 608h2v1h-2zM390 608h1v1h-1zM400 608h1v1h-1zM408 608h2v1h-2zM472 608h3v1h-3zM571 608h1v1h-1zM347 608h1v2h-1zM356 608h1v2h-1zM424 608h1v2h-1zM447 608h1v2h-1zM562 608h1v2h-1zM311 609h1v1h-1zM348 609h1v1h-1zM361 609h2v1h-2zM389 609h1v1h-1zM406 609h2v1h-2zM475 609h3v1h-3zM563 609h1v1h-1zM569 609h2v1h-2zM632 609h1v1h-1zM401 609h1v2h-1zM387 609h1v3h-1zM349 610h1v1h-1zM355 610h1v1h-1zM388 610h1v1h-1zM404 610h2v1h-2zM564 610h2v1h-2zM568 610h1v1h-1zM310 610h1v2h-1zM346 610h1v2h-1zM425 610h1v2h-1zM446 610h1v2h-1zM631 610h1v2h-1zM325 610h1v3h-1zM616 610h1v4h-1zM354 611h1v1h-1zM402 611h2v1h-2zM437 611h1v1h-1zM566 611h2v1h-2zM350 611h1v2h-1zM309 612h1v1h-1zM436 612h1v1h-1zM353 612h1v2h-1zM426 612h1v2h-1zM438 612h1v2h-1zM445 612h1v2h-1zM630 612h1v2h-1zM345 612h1v3h-1zM308 613h1v1h-1zM351 613h1v1h-1zM435 613h1v1h-1zM326 613h1v2h-1zM192 614h1v1h-1zM307 614h1v1h-1zM335 614h3v1h-3zM352 614h1v1h-1zM434 614h1v1h-1zM439 614h1v1h-1zM621 614h2v1h-2zM629 614h1v1h-1zM427 614h1v2h-1zM444 614h1v2h-1zM617 614h1v3h-1zM190 615h2v1h-2zM305 615h2v1h-2zM330 615h5v1h-5zM338 615h1v1h-1zM428 615h2v1h-2zM433 615h1v1h-1zM619 615h2v1h-2zM623 615h2v1h-2zM102 615h1v2h-1zM193 615h1v2h-1zM327 615h1v2h-1zM344 615h1v2h-1zM440 615h1v2h-1zM628 615h1v2h-1zM188 616h2v1h-2zM303 616h2v1h-2zM328 616h2v1h-2zM339 616h1v1h-1zM430 616h3v1h-3zM618 616h1v1h-1zM625 616h2v1h-2zM101 616h1v2h-1zM443 616h1v2h-1zM127 617h1v1h-1zM187 617h1v1h-1zM287 617h1v1h-1zM627 617h1v1h-1zM194 617h1v2h-1zM302 617h1v2h-1zM340 617h1v2h-1zM343 617h1v2h-1zM441 617h1v2h-1zM103 617h1v4h-1zM126 618h1v1h-1zM186 618h1v1h-1zM252 618h6v1h-6zM100 618h1v2h-1zM128 618h1v2h-1zM286 618h1v2h-1zM288 618h1v2h-1zM442 618h1v2h-1zM172 619h1v1h-1zM185 619h1v1h-1zM250 619h2v1h-2zM341 619h1v1h-1zM125 619h1v2h-1zM195 619h1v2h-1zM258 619h1v2h-1zM301 619h1v2h-1zM342 619h1v2h-1zM99 620h1v1h-1zM129 620h1v1h-1zM173 620h1v1h-1zM184 620h1v1h-1zM248 620h2v1h-2zM270 620h3v1h-3zM285 620h1v1h-1zM171 620h1v2h-1zM289 620h1v2h-1zM118 621h1v1h-1zM124 621h1v1h-1zM130 621h1v1h-1zM174 621h1v1h-1zM183 621h1v1h-1zM247 621h1v1h-1zM267 621h3v1h-3zM273 621h1v1h-1zM284 621h1v1h-1zM98 621h1v2h-1zM117 621h1v2h-1zM196 621h1v2h-1zM259 621h1v2h-1zM104 621h1v3h-1zM300 621h1v3h-1zM119 622h2v1h-2zM123 622h1v1h-1zM182 622h1v1h-1zM207 622h1v1h-1zM266 622h1v1h-1zM274 622h2v1h-2zM131 622h1v2h-1zM170 622h1v2h-1zM175 622h1v2h-1zM246 622h1v2h-1zM283 622h1v2h-1zM290 622h1v2h-1zM95 623h3v1h-3zM121 623h2v1h-2zM162 623h1v1h-1zM180 623h2v1h-2zM206 623h1v1h-1zM276 623h1v1h-1zM116 623h1v2h-1zM197 623h1v2h-1zM208 623h1v2h-1zM260 623h1v2h-1zM265 623h1v2h-1zM92 624h3v1h-3zM132 624h1v1h-1zM161 624h1v1h-1zM163 624h1v1h-1zM169 624h1v1h-1zM176 624h1v1h-1zM178 624h2v1h-2zM198 624h1v1h-1zM204 624h2v1h-2zM277 624h6v1h-6zM245 624h1v2h-1zM291 624h1v2h-1zM299 624h1v2h-1zM105 624h1v3h-1zM133 625h1v1h-1zM159 625h2v1h-2zM164 625h2v1h-2zM177 625h1v1h-1zM199 625h2v1h-2zM203 625h1v1h-1zM209 625h1v1h-1zM264 625h1v1h-1zM115 625h1v2h-1zM168 625h1v2h-1zM261 625h1v2h-1zM134 626h2v1h-2zM147 626h1v1h-1zM158 626h1v1h-1zM166 626h1v1h-1zM201 626h2v1h-2zM210 626h1v1h-1zM244 626h1v1h-1zM263 626h1v1h-1zM292 626h1v1h-1zM298 626h1v2h-1zM136 627h1v1h-1zM148 627h1v1h-1zM157 627h1v1h-1zM167 627h1v1h-1zM262 627h1v1h-1zM293 627h2v1h-2zM114 627h1v2h-1zM146 627h1v2h-1zM211 627h1v2h-1zM243 627h1v2h-1zM106 627h1v4h-1zM137 628h1v1h-1zM149 628h2v1h-2zM155 628h2v1h-2zM295 628h2v1h-2zM297 628h1v2h-1zM138 629h1v1h-1zM145 629h1v1h-1zM151 629h1v1h-1zM153 629h2v1h-2zM212 629h2v1h-2zM242 629h1v1h-1zM113 629h1v2h-1zM139 630h1v1h-1zM144 630h1v1h-1zM152 630h1v1h-1zM214 630h2v1h-2zM241 630h1v1h-1zM110 631h3v1h-3zM140 631h1v1h-1zM216 631h2v1h-2zM107 631h1v2h-1zM143 631h1v2h-1zM232 631h1v2h-1zM240 631h1v2h-1zM108 632h2v1h-2zM141 632h1v1h-1zM218 632h1v1h-1zM233 632h1v1h-1zM142 633h1v1h-1zM219 633h1v1h-1zM234 633h2v1h-2zM239 633h1v1h-1zM231 633h1v2h-1zM236 634h1v1h-1zM238 634h1v1h-1zM220 634h1v2h-1zM237 635h1v1h-1zM230 635h1v3h-1zM221 636h1v1h-1zM222 637h1v1h-1zM223 638h1v1h-1zM229 638h1v2h-1zM224 639h1v1h-1zM225 640h1v2h-1zM228 640h1v2h-1zM226 642h1v1h-1zM227 642h1v2h-1z" fill="#2aaae2"/>
<rect x="92" y="577" width="540" height="1" fill="#b4b4b4"/>
<rect x="92" y="591" width="540" height="1" fill="#b4b4b4"/>
<rect x="92" y="647" width="536" height="1" fill="#b4b4b4"/>
<rect x="92" y="660" width="540" height="1" fill="#b4b4b4"/>
<text x="91.5" y="421" fill="#222" font-size="12" text-anchor="start" font-weight="normal" textLength="85">MACD(26,12,9)</text>
<text x="182" y="421" fill="#3f8fe8" font-size="12" text-anchor="start" font-weight="normal" textLength="50.5">DIFF:5.49</text>
<text x="241.5" y="421" fill="#4cc38a" font-size="12" text-anchor="start" font-weight="normal" textLength="50.5">DEA:6.66</text>
<text x="301" y="421" fill="#4ab2e6" font-size="12" text-anchor="start" font-weight="normal" textLength="67.5">MACD:-2.35</text>
<text x="91.5" y="557" fill="#222" font-size="12" text-anchor="start" font-weight="normal" textLength="73">RSI(14,14,14)</text>
<text x="170.5" y="557" fill="#3f8fe8" font-size="12" text-anchor="start" font-weight="normal" textLength="59">RSI1:58.06</text>
<text x="238.7" y="557" fill="#4cc38a" font-size="12" text-anchor="start" font-weight="normal" textLength="59">RSI2:58.06</text>
<text x="306.6" y="557" fill="#4ab2e6" font-size="12" text-anchor="start" font-weight="normal" textLength="59">RSI3:58.06</text>
<text x="374.8" y="557" fill="#c2c2c2" font-size="12" text-anchor="start" font-weight="normal" textLength="53">L20:20.00</text>
<text x="437" y="557" fill="#c2c2c2" font-size="12" text-anchor="start" font-weight="normal" textLength="53">L30:30.00</text>
<text x="498.7" y="557" fill="#c2c2c2" font-size="12" text-anchor="start" font-weight="normal" textLength="53">L70:70.00</text>
<text x="560.7" y="557" fill="#c2c2c2" font-size="12" text-anchor="start" font-weight="normal" textLength="29">L80:8</text>
<rect x="172" y="662" width="1" height="5" fill="#d0d8e4"/>
<text x="174" y="674" fill="#2a2a35" font-size="12" text-anchor="start" font-weight="bold" textLength="44">2025/12</text>
<rect x="282" y="662" width="1" height="5" fill="#d0d8e4"/>
<text x="284" y="674" fill="#2a2a35" font-size="12" text-anchor="start" font-weight="bold" textLength="44">2026/01</text>
<rect x="387" y="662" width="1" height="5" fill="#d0d8e4"/>
<text x="389" y="674" fill="#2a2a35" font-size="12" text-anchor="start" font-weight="bold" textLength="44">2026/02</text>
<rect x="487" y="662" width="1" height="5" fill="#d0d8e4"/>
<text x="489" y="674" fill="#2a2a35" font-size="12" text-anchor="start" font-weight="bold" textLength="44">2026/03</text>
<rect x="597" y="662" width="1" height="5" fill="#d0d8e4"/>
<text x="599" y="674" fill="#2a2a35" font-size="12" text-anchor="start" font-weight="bold" textLength="44">2026/04</text>
<rect x="662.5" y="136.5" width="68" height="17" fill="#fff" stroke="#ff8000" stroke-width="1"/>
<text x="666" y="149" fill="#ff8000" font-size="12" text-anchor="start" font-weight="normal">104.03</text>
<path d="M722 132 L726 128 L730 132 Z M722 136 L726 132 L730 136 Z" fill="#ff8000" shape-rendering="auto"/>
<rect x="0" y="0" width="18" height="212" fill="#e0e2ec"/>
<rect x="18" y="0" width="1" height="212" fill="#e0e2ec"/>
<rect x="0" y="49" width="18" height="46" fill="#ff6600"/>
<rect x="18" y="49" width="1" height="46" fill="#e9eff8"/>
<rect x="0" y="147" width="19" height="1" fill="#d3dae4"/>
<g font-family="'Liberation Sans', 'Noto Sans CJK SC', sans-serif" font-size="13" text-anchor="middle" shape-rendering="auto">
<text x="8.9" y="15.5" fill="#1c2433">分</text>
<text x="8.9" y="29.5" fill="#1c2433">时</text>
<text x="8.9" y="43.5" fill="#1c2433">图</text>
<text x="8.9" y="78" fill="#fff">线</text>
<text x="8.9" y="92.2" fill="#fff">图</text>
<text x="8.9" y="113.8" fill="#1c2433">闪</text>
<text x="8.9" y="127.6" fill="#1c2433">电</text>
<text x="8.9" y="141.5" fill="#1c2433">图</text>
<text x="8.9" y="165.3" fill="#1c2433">合</text>
<text x="8.9" y="179.3" fill="#1c2433">约</text>
<text x="8.9" y="193.4" fill="#1c2433">资</text>
<text x="8.9" y="207.4" fill="#1c2433">料</text>
</g>
<text transform="translate(9.1,64) scale(0.76,1)" x="0" y="0" fill="#fff" font-size="12.2" font-weight="bold" text-anchor="middle" font-family="'Liberation Serif', serif">K</text>
<text x="91.5" y="12" fill="#000" font-size="12" text-anchor="start" font-family="'Liberation Sans', 'Noto Sans CJK SC', sans-serif" shape-rendering="auto">美原油连续</text>
<text x="151.5" y="12" fill="#ff8000" font-size="12" text-anchor="start" font-family="'Liberation Sans', 'Noto Sans CJK SC', sans-serif" shape-rendering="auto">【日线】</text>
<g stroke="#ff8000" fill="none" stroke-width="1" shape-rendering="auto"><circle cx="203.7" cy="9.7" r="3.8"/><path d="M200 9.7H207.4M203.7 6V13.4"/></g>
<rect x="599.5" y="-1.5" width="13" height="14" fill="#fff" stroke="#1b7ad6"/>
<rect x="615.5" y="-1.5" width="13" height="14" fill="#fff" stroke="#1b7ad6"/>
<rect x="631.5" y="-1.5" width="13" height="14" fill="#fff" stroke="#1b7ad6"/>
<rect x="647.5" y="-1.5" width="13" height="14" fill="#fff" stroke="#1b7ad6"/>
<rect x="601" y="5" width="3" height="2" fill="#1b7ad6"/>
<rect x="608" y="5" width="3" height="2" fill="#1b7ad6"/>
<rect x="605" y="5" width="2" height="2" fill="#1b7ad6"/>
<rect x="605" y="1" width="2" height="3" fill="#1b7ad6"/>
<rect x="605" y="8" width="2" height="3" fill="#1b7ad6"/>
<rect x="618" y="1" width="1" height="10" fill="#1b7ad6"/>
<rect x="617" y="9" width="9" height="1" fill="#1b7ad6"/>
<rect x="617" y="2" width="3" height="1" fill="#1b7ad6"/>
<rect x="625" y="8" width="1" height="3" fill="#1b7ad6"/>
<rect x="626" y="9" width="1" height="1" fill="#1b7ad6"/>
<rect x="634" y="1" width="1" height="10" fill="#1b7ad6"/>
<rect x="633" y="9" width="9" height="1" fill="#1b7ad6"/>
<rect x="633" y="2" width="3" height="1" fill="#1b7ad6"/>
<rect x="641" y="8" width="1" height="3" fill="#1b7ad6"/>
<rect x="642" y="9" width="1" height="1" fill="#1b7ad6"/>
<rect x="621" y="2" width="1" height="6" fill="#1b7ad6"/>
<path d="M625.2 2.1 L622.3 4.5 L625.2 6.9 Z" fill="#1b7ad6" shape-rendering="auto"/>
<path d="M637 2.1 L642.2 5.4 L637 8.3 Z" fill="#1b7ad6" shape-rendering="auto"/>
<rect x="649.5" y="1.5" width="3" height="9" fill="none" stroke="#1b7ad6"/>
<rect x="651" y="5" width="5" height="2" fill="#1b7ad6"/>
<path d="M655 2.7 L658.8 5.9 L655 8.9 Z" fill="#1b7ad6" shape-rendering="auto"/>
<rect x="26" y="546" width="4" height="1" fill="#111"/>
<rect x="26" y="553" width="4" height="1" fill="#111"/>
<rect x="24" y="548" width="1" height="4" fill="#111"/>
<rect x="31" y="548" width="1" height="4" fill="#111"/>
<rect x="25" y="547" width="1" height="1" fill="#111"/>
<rect x="30" y="547" width="1" height="1" fill="#111"/>
<rect x="25" y="552" width="1" height="1" fill="#111"/>
<rect x="30" y="552" width="1" height="1" fill="#111"/>
<rect x="27" y="548" width="2" height="4" fill="#ff0000"/>
<rect x="26" y="549" width="4" height="2" fill="#ff0000"/>
<rect x="27" y="543" width="1" height="2" fill="#ff0000"/>
<rect x="27" y="555" width="1" height="2" fill="#ff0000"/>
<rect x="21" y="549" width="2" height="1" fill="#ff0000"/>
<rect x="33" y="549" width="2" height="1" fill="#ff0000"/>
<rect x="22" y="544" width="1" height="1" fill="#ff0000"/>
<rect x="23" y="545" width="1" height="1" fill="#ff0000"/>
<rect x="33" y="544" width="1" height="1" fill="#ff0000"/>
<rect x="32" y="545" width="1" height="1" fill="#ff0000"/>
<rect x="23" y="554" width="1" height="1" fill="#ff0000"/>
<rect x="22" y="555" width="1" height="1" fill="#ff0000"/>
<rect x="32" y="554" width="1" height="1" fill="#ff0000"/>
<rect x="33" y="555" width="1" height="1" fill="#ff0000"/>
<rect x="19" y="661" width="71" height="18" fill="#fff"/>
<rect x="18" y="661" width="72" height="1" fill="#cdd5df"/>
<rect x="18" y="661" width="2" height="18" fill="#cdd5df"/>
<rect x="88" y="661" width="1" height="18" fill="#cdd5df"/>
<text x="33.5" y="676.5" fill="#ff8000" font-size="12.5" font-weight="bold" text-anchor="start" font-family="'Liberation Sans', 'Noto Sans CJK SC', sans-serif" shape-rendering="auto">日线</text>
<path d="M63.3 676 L67.5 668 L71.7 676 Z" fill="#ff8000" shape-rendering="auto"/>
<rect x="730" y="316" width="1" height="17" fill="#eef2f6"/>
<rect x="466" y="678" width="168" height="1" fill="#e2e2e2"/>
</svg></body></html>
